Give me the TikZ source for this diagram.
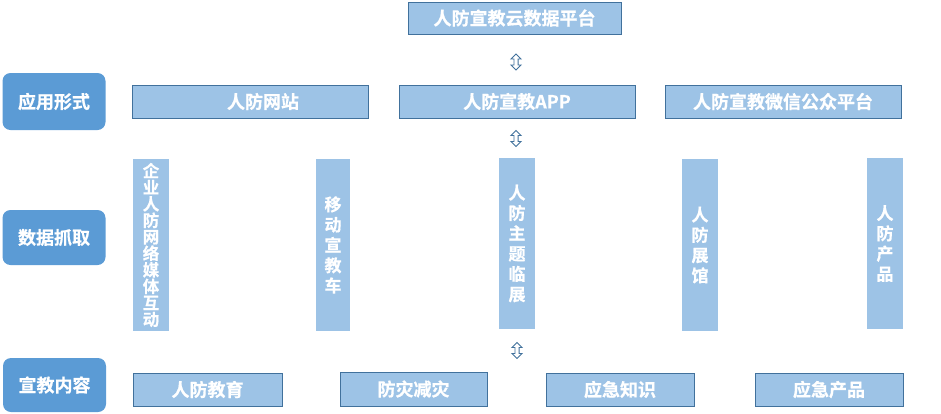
\documentclass[tikz,border=0pt]{standalone}
\usepackage{fontspec}
\setmainfont{Noto Sans CJK SC}
\newfontfamily\cjkb[FakeBold=0.6]{Noto Sans CJK SC Bold}
\usetikzlibrary{shapes.arrows}
\definecolor{boxfill}{HTML}{9DC3E6}
\definecolor{boxline}{HTML}{41719C}
\definecolor{labfill}{HTML}{5B9BD5}
\tikzset{
  hbox/.style={draw=boxline, line width=1pt, fill=boxfill, inner sep=0pt, text=white, font=\cjkb\fontsize{18}{20}\selectfont},
  vbox/.style={fill=boxfill, inner sep=0pt, text=white, align=center, font=\cjkb\fontsize{17}{20.3}\selectfont},
  lab/.style={fill=labfill, rounded corners=8pt, inner sep=0pt, text=white, minimum width=103pt, font=\cjkb\fontsize{18}{20}\selectfont},
  updown/.style={double arrow, shape border rotate=90, draw=boxline, fill=white, line width=0.9pt, minimum height=16pt, minimum width=10pt, inner sep=1.3pt, double arrow head extend=2.5pt}
}
\begin{document}
\begin{tikzpicture}[x=1pt,y=-1pt]
\useasboundingbox (0,0) rectangle (941,413);
% top
\node[hbox, minimum width=213pt, minimum height=32pt] (cloud) at (514.5,18) {人防宣教云数据平台};
% row 2
\node[hbox, minimum width=236pt, minimum height=33pt] (web) at (250,101.5) {\hspace{26pt}人防网站};
\node[hbox, minimum width=236pt, minimum height=33pt] (app) at (517,101.5) {人防宣教APP};
\node[hbox, minimum width=236pt, minimum height=33pt] (wx) at (783,101.5) {人防宣教微信公众平台};
% left labels
\node[lab, minimum height=57pt] (l1) at (54,101.5) {应用形式};
\node[lab, minimum height=55pt] (l2) at (54,237.5) {数据抓取};
\node[lab, minimum height=54pt] (l3) at (54.5,385) {宣教内容};
% vertical boxes
\node[vbox, minimum width=36pt, minimum height=172pt, font=\cjkb\fontsize{16.5}{16.5}\selectfont] (v1) at (151,245) {企\\业\\人\\防\\网\\络\\媒\\体\\互\\动};
\node[vbox, minimum width=34pt, minimum height=172pt] (v2) at (333,245) {移\\动\\宣\\教\\车};
\node[vbox, minimum width=36pt, minimum height=171pt] (v3) at (517,243.5) {人\\防\\主\\题\\临\\展};
\node[vbox, minimum width=36pt, minimum height=172pt] (v4) at (700,245) {人\\防\\展\\馆};
\node[vbox, minimum width=36pt, minimum height=171pt] (v5) at (885,243.5) {人\\防\\产\\品};
% bottom
\node[hbox, minimum width=149pt, minimum height=33pt] (b1) at (207.5,389.5) {人防教育};
\node[hbox, minimum width=147pt, minimum height=34pt] (b2) at (413.5,389) {防灾减灾};
\node[hbox, minimum width=148pt, minimum height=33pt] (b3) at (620,389.5) {应急知识};
\node[hbox, minimum width=148pt, minimum height=33pt] (b4) at (829,389.5) {应急产品};
% arrows
\node[updown] (a1) at (516,62) {};
\node[updown] (a2) at (516,138.5) {};
\node[updown] (a3) at (517,350.5) {};
\end{tikzpicture}
\end{document}
